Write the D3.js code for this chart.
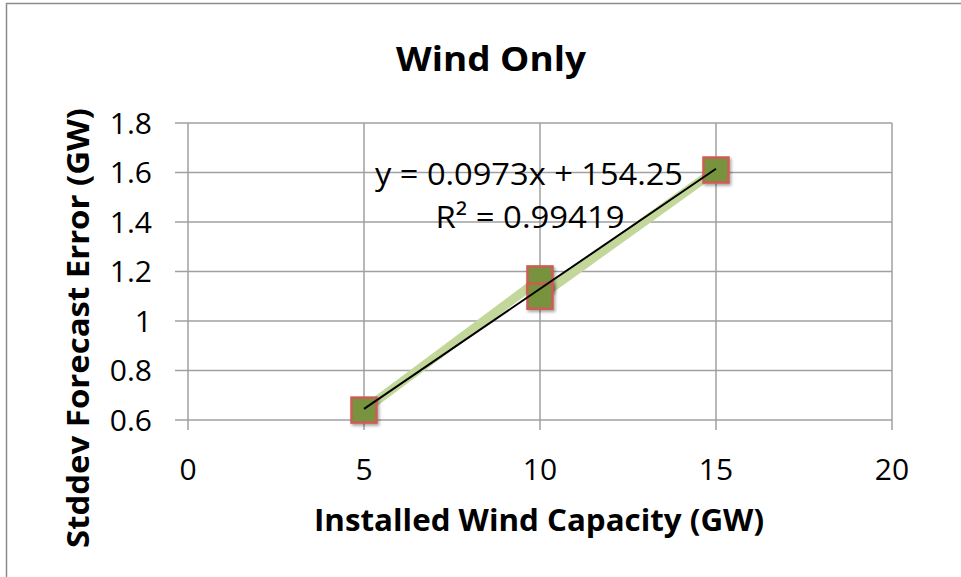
<!DOCTYPE html>
<html>
<head>
<meta charset="utf-8">
<script src="https://cdn.jsdelivr.net/npm/d3@7"></script>
<style>
  body { margin: 0; background: #fff; }
  text { font-family: "Open Sans", sans-serif; fill: #000; }
</style>
</head>
<body>
<svg id="chart"></svg>
<script>
// data (GW)
const capacity = [5, 10, 10, 15];
const stddev = [0.64, 1.17, 1.10, 1.61];
const xTicks = [0, 5, 10, 15, 20];
const yTicks = [0.6, 0.8, 1, 1.2, 1.4, 1.6, 1.8];
const equationText = 'y = 0.0973x + 154.25';
const r2Text = 'R² = 0.99419';

const width = 961,
  height = 577;

const svg = d3.select('#chart').attr('width', width).attr('height', height);

// outer chart frame
svg
  .append('rect')
  .attr('x', 6.5)
  .attr('y', 3.5)
  .attr('width', 1000)
  .attr('height', 1000)
  .attr('fill', '#fff')
  .attr('stroke', '#8c8c8c')
  .attr('stroke-width', 1.5);

const x = d3.scaleLinear().domain([0, 20]).range([188, 892]);
const y = d3.scaleLinear().domain([0.6, 1.8]).range([420, 123]);

const gridColor = '#a0a0a0';

// horizontal grid
svg
  .append('g')
  .selectAll('line')
  .data(yTicks)
  .enter()
  .append('line')
  .attr('x1', x(0) - 13)
  .attr('x2', x(20))
  .attr('y1', (d) => y(d))
  .attr('y2', (d) => y(d))
  .attr('stroke', gridColor)
  .attr('stroke-width', 1.5);

// vertical grid
svg
  .append('g')
  .selectAll('line')
  .data(xTicks)
  .enter()
  .append('line')
  .attr('x1', (d) => x(d))
  .attr('x2', (d) => x(d))
  .attr('y1', y(1.8))
  .attr('y2', y(0.6) + 10)
  .attr('stroke', gridColor)
  .attr('stroke-width', 1.5);

// tick labels
svg
  .append('g')
  .selectAll('text')
  .data(yTicks)
  .enter()
  .append('text')
  .attr('x', 152)
  .attr('y', (d) => y(d))
  .attr('dy', '0.36em')
  .attr('text-anchor', 'end')
  .style('font-size', '30px')
  .text((d) => d3.format('~g')(d));

svg
  .append('g')
  .selectAll('text')
  .data(xTicks)
  .enter()
  .append('text')
  .attr('x', (d) => x(d))
  .attr('y', 480)
  .attr('text-anchor', 'middle')
  .style('font-size', '30px')
  .text((d) => d);

const points = capacity.map((c, i) => ({x: c, y: stddev[i]}));

// series line (light green band)
svg
  .append('path')
  .datum(points)
  .attr('fill', 'none')
  .attr('stroke', '#c4d79b')
  .attr('stroke-width', 9)
  .attr('stroke-linejoin', 'round')
  .attr(
    'd',
    d3
      .line()
      .x((d) => x(d.x))
      .y((d) => y(d.y))
  );

// shadow filter for markers
const defs = svg.append('defs');
const filter = defs.append('filter').attr('id', 'shadow').attr('x', '-30%').attr('y', '-30%').attr('width', '160%').attr('height', '160%');
filter
  .append('feDropShadow')
  .attr('dx', 1.5)
  .attr('dy', 2)
  .attr('stdDeviation', 1.5)
  .attr('flood-color', '#000')
  .attr('flood-opacity', 0.35);

const size = 25;
svg
  .append('g')
  .selectAll('rect')
  .data(points)
  .enter()
  .append('rect')
  .attr('x', (d) => x(d.x) - size / 2)
  .attr('y', (d) => y(d.y) - size / 2)
  .attr('width', size)
  .attr('height', size)
  .attr('fill', '#77933c')
  .attr('stroke', '#cd5c55')
  .attr('stroke-width', 2.5)
  .attr('filter', 'url(#shadow)');

// linear trendline from least squares
const mx = d3.mean(capacity),
  my = d3.mean(stddev);
const slope =
  d3.sum(capacity, (c, i) => (c - mx) * (stddev[i] - my)) /
  d3.sum(capacity, (c) => (c - mx) * (c - mx));
const intercept = my - slope * mx;
const [x0, x1] = d3.extent(capacity);

svg
  .append('line')
  .attr('x1', x(x0))
  .attr('y1', y(slope * x0 + intercept))
  .attr('x2', x(x1))
  .attr('y2', y(slope * x1 + intercept))
  .attr('stroke', '#000')
  .attr('stroke-width', 2);

// trendline label
svg
  .append('text')
  .attr('x', 529)
  .attr('y', 185)
  .attr('text-anchor', 'middle')
  .style('font-size', '31px')
  .attr('textLength', 308)
  .attr('lengthAdjust', 'spacingAndGlyphs')
  .text(equationText);

svg
  .append('text')
  .attr('x', 530)
  .attr('y', 228)
  .attr('text-anchor', 'middle')
  .style('font-size', '31px')
  .attr('textLength', 189)
  .attr('lengthAdjust', 'spacingAndGlyphs')
  .text(r2Text);

// titles
svg
  .append('text')
  .attr('x', 491)
  .attr('y', 71)
  .attr('text-anchor', 'middle')
  .style('font-size', '34px')
  .style('font-weight', 'bold')
  .attr('textLength', 190)
  .attr('lengthAdjust', 'spacingAndGlyphs')
  .text('Wind Only');

svg
  .append('text')
  .attr('x', 539)
  .attr('y', 531)
  .attr('text-anchor', 'middle')
  .style('font-size', '30px')
  .style('font-weight', 'bold')
  .attr('textLength', 450)
  .attr('lengthAdjust', 'spacingAndGlyphs')
  .text('Installed Wind Capacity (GW)');

svg
  .append('text')
  .attr('transform', 'translate(89, 328) rotate(-90)')
  .attr('text-anchor', 'middle')
  .style('font-size', '30px')
  .style('font-weight', 'bold')
  .attr('textLength', 440)
  .attr('lengthAdjust', 'spacingAndGlyphs')
  .text('Stddev Forecast Error (GW)');
</script>
</body>
</html>
